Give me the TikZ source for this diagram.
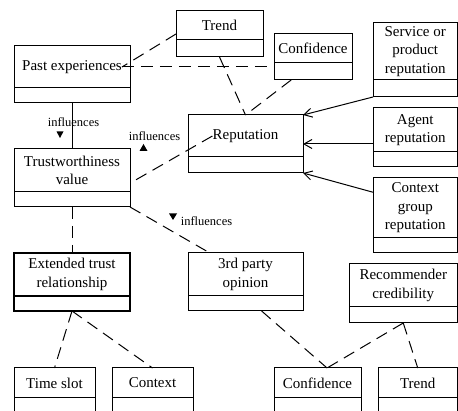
\documentclass[tikz,border=0pt]{standalone}
\usepackage{fontspec}
\setmainfont{Liberation Serif}
\usetikzlibrary{arrows.meta,calc}
\tikzset{
  cls/.style={draw, line width=1pt, inner sep=0pt, outer sep=0pt, shape=rectangle},
  divider/.style={line width=1pt},
  thick border/.style={line width=2pt},
  lbl/.style={font=\fontsize{15}{18.5}\selectfont, align=center, inner sep=0pt},
  inf/.style={font=\fontsize{12.5}{14}\selectfont, inner sep=0pt},
  conn/.style={line width=1pt, dash pattern=on 12pt off 7pt},
  plain/.style={line width=1pt},
  gen/.style={line width=1pt, -{Straight Barb[length=8pt,width=9pt,line width=1pt]}},
}
% class box: [style] name, x1, y1, x2, y of divider, y2, label
\newcommand\umlclass[8][]{%
  \node[cls,#1,anchor=north west,minimum width={(#5-#3)*1pt},minimum height={(#7-#4)*1pt}] (#2) at (#3,#4) {};
  \node[lbl] (#2-t) at ({(#3+#5)/2},{(#4+#6)/2}) {#8};
  \draw[divider,#1] (#3,#6) -- (#5,#6);
}
\begin{document}
\begin{tikzpicture}[x=1pt,y=-1pt]
\useasboundingbox (0,0) rectangle (458,411);
\clip (0,0) rectangle (458,411);

% classes
\umlclass{trend}{176}{11}{263}{40}{57}{Trend}
\umlclass{past}{14}{46}{130}{88}{103}{Past experiences}
\umlclass{conf}{274}{34}{352}{63}{80}{Confidence}
\umlclass{svc}{373}{23}{457.5}{80}{97}{Service or\\product\\reputation}
\umlclass{rep}{188}{115}{303}{157}{173}{Reputation}
\umlclass{agt}{373}{108}{457.5}{152}{167}{Agent\\reputation}
\umlclass{trust}{14}{149}{130}{192}{207}{Trustworthiness\\value}
\umlclass{ctxg}{373}{178}{457.5}{238}{253}{Context\\group\\reputation}
\umlclass[thick border]{ext}{14}{253}{130}{296}{311}{Extended trust\\relationship}
\umlclass{p3}{188}{253}{303}{296}{311}{3rd party\\opinion}
\umlclass{rec}{349}{264}{457.5}{307}{323}{Recommender\\credibility}
\umlclass{time}{14}{368}{95}{398}{430}{Time slot}
\umlclass{ctx}{112}{368}{193}{398}{430}{Context}
\umlclass{conf2}{274}{368}{361}{398}{430}{Confidence}
\umlclass{trend2}{378}{368}{457.5}{398}{430}{Trend}

% associations
\draw[conn] (trend.west) -- (past-t.east);
\draw[conn] (past-t.east) -- (past-t.east -| conf.west);
\draw[conn] (trend.south) -- (rep.north);
\draw[conn] ($(conf.south west)!0.22!(conf.south east)$) -- (rep.north);
\draw[conn] (rep-t.west) -- ($(trust.north east)!0.59!(trust.south east)$);
\draw[conn] (trust.south) -- (ext.north);
\draw[conn] (trust.south east) -- ($(p3.north west)!0.19!(p3.north east)$);
\draw[conn] (ext.south) -- (time.north);
\draw[conn] (ext.south) -- (ctx.north);
\draw[conn] ($(p3.north east)!0.6!(p3.south east)$) -- ($(p3.north east)!0.6!(p3.south east)$ -| rec.west);
\draw[conn] ($(p3.south west)!0.64!(p3.south east)$) -- ($(conf2.north west)!0.61!(conf2.north east)$);
\draw[conn] (rec.south) -- ($(conf2.north west)!0.61!(conf2.north east)$);
\draw[conn] (rec.south) -- (trend2.north);

% generalisations into Reputation
\draw[gen] (svc.south west) -- (rep.north east);
\draw[gen] (rep.east -| agt.west) -- (rep.east);
\draw[gen] ($(ctxg.north west)!0.19!(ctxg.south west)$) -- (rep.south east);

% influences
\draw[plain] (past.south) -- (trust.north);
\node[inf] (inf1) at (73.5,122.5) {influences};
\fill (56.5,131.5) -- (63.5,131.5) -- (60,138) -- cycle;
\node[inf] (inf2) at (154.5,136.5) {influences};
\fill (139.5,151) -- (147.5,151) -- (143.5,144) -- cycle;
\node[inf] (inf3) at (206.5,221.5) {influences};
\fill (169,213.5) -- (177,213.5) -- (173,220) -- cycle;
\end{tikzpicture}
\end{document}
